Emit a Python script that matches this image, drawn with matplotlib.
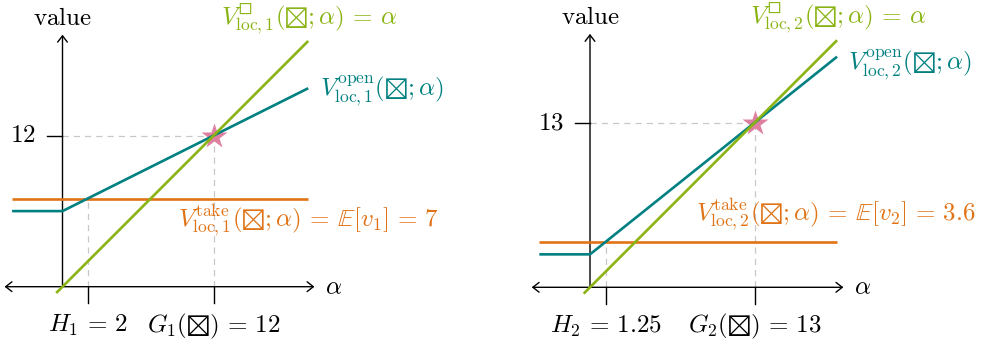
import matplotlib
matplotlib.use('Agg')
import matplotlib.pyplot as plt
from matplotlib.patches import FancyArrowPatch

plt.rcParams['mathtext.fontset'] = 'cm'

# 데이터
panel_ids = [1, 2]
H_vals = [2, 1.25]
H_text = ['2', '1.25']
G_vals = [12, 13]
take_vals = [7, 3.6]
take_text = ['7', '3.6']

box_alpha = [-0.5, 19.5]          # V^box = alpha
take_alpha = [-4, 19.5]
open_alpha = [-4, 0, 19.5]
open_vals = [[6, 6, 15.75],       # panel 1
             [2.6, 2.6, 18.2]]    # panel 2

green = '#8ab414'
teal = '#008080'
orange = '#e07316'
pink = '#df80a0'
grid_c = '#c8c8c8'
FS = 18
EQ = r'\,=\,'

W, HF = 990, 346
fig = plt.figure(figsize=(W / 100, HF / 100), dpi=100)

# 원점(px, 위에서부터)과 스케일(px/단위)
origins = [(62.5, 286.7, 12.6), (590.0, 287.3, 12.67)]
label_pos = [
    dict(green=(12.6, 20.8), teal=(20.4, 15.1), orange=(9.2, 4.7)),
    dict(green=(12.6, 20.8), teal=(20.4, 17.1), orange=(8.4, 5.2)),
]


def panel_axes(ox, oy, scale):
    x0, x1, y0, y1 = -5, 21.5, -4.5, 22.5
    left = ox + x0 * scale
    bottom = (HF - oy) + y0 * scale
    ax = fig.add_axes([left / W, bottom / HF, (x1 - x0) * scale / W, (y1 - y0) * scale / HF])
    ax.set_xlim(x0, x1)
    ax.set_ylim(y0, y1)
    ax.axis('off')
    return ax


for i, k in enumerate(panel_ids):
    ox, oy, sc = origins[i]
    ax = panel_axes(ox, oy, sc)
    h, g, t = H_vals[i], G_vals[i], take_vals[i]

    # 축
    ax.add_patch(FancyArrowPatch((-4.6, 0), (20, 0), arrowstyle='<->,head_length=0.45,head_width=0.35',
                                 mutation_scale=10, lw=1.0, color='black', shrinkA=0, shrinkB=0, zorder=1))
    ax.add_patch(FancyArrowPatch((0, 0), (0, 20), arrowstyle='->,head_length=0.45,head_width=0.35',
                                 mutation_scale=10, lw=1.0, color='black', shrinkA=0, shrinkB=0, zorder=1))
    # 눈금
    for xv in (h, g):
        ax.plot([xv, xv], [0, -1.3], color='black', lw=1.0, zorder=1)
    ax.plot([-1.2, 0], [g, g], color='black', lw=1.0, zorder=1)

    # 점선
    dash = dict(color=grid_c, lw=0.9, ls=(0, (5, 4)), zorder=0.5)
    ax.plot([h, h], [0, t], **dash)
    ax.plot([g, g], [0, g], **dash)
    ax.plot([0, g], [g, g], **dash)

    # 별
    ax.plot([g], [g], marker='*', ms=19, color=pink, mec='none', zorder=2)

    # 선
    ax.plot(take_alpha, [t, t], color=orange, lw=1.9, zorder=3, solid_capstyle='butt')
    ax.plot(open_alpha, open_vals[i], color=teal, lw=1.9, zorder=3, solid_capstyle='butt')
    ax.plot(box_alpha, box_alpha, color=green, lw=1.9, zorder=4, solid_capstyle='butt')

    # 텍스트
    ax.text(0, 20.8, r'$\mathrm{value}$', ha='center', va='baseline', fontsize=FS)
    ax.text(20.8, 0, r'$\alpha$', ha='left', va='center', fontsize=FS)
    ax.text(-2.1, g, r'$%d$' % g, ha='right', va='center', fontsize=FS)
    ax.text(h, -3.6, r'$H_%d%s%s$' % (k, EQ, H_text[i]), ha='center', va='baseline', fontsize=FS)
    ax.text(g, -3.6, r'$G_%d(\boxtimes)%s%d$' % (k, EQ, g), ha='center', va='baseline', fontsize=FS)

    lp = label_pos[i]
    ax.text(*lp['green'], r'$V^{◻}_{\mathrm{loc},%d}(\boxtimes;\alpha)%s\alpha$' % (k, EQ),
            color=green, ha='left', va='baseline', fontsize=FS)
    ax.text(*lp['teal'], r'$V^{\mathrm{open}}_{\mathrm{loc},%d}(\boxtimes;\alpha)$' % k,
            color=teal, ha='left', va='baseline', fontsize=FS)
    ax.text(*lp['orange'],
            r'$V^{\mathrm{take}}_{\mathrm{loc},%d}(\boxtimes;\alpha)%s\mathbb{E}[v_%d]%s%s$'
            % (k, EQ, k, EQ, take_text[i]),
            color=orange, ha='left', va='baseline', fontsize=FS)

fig.savefig('out.png', dpi=100)
